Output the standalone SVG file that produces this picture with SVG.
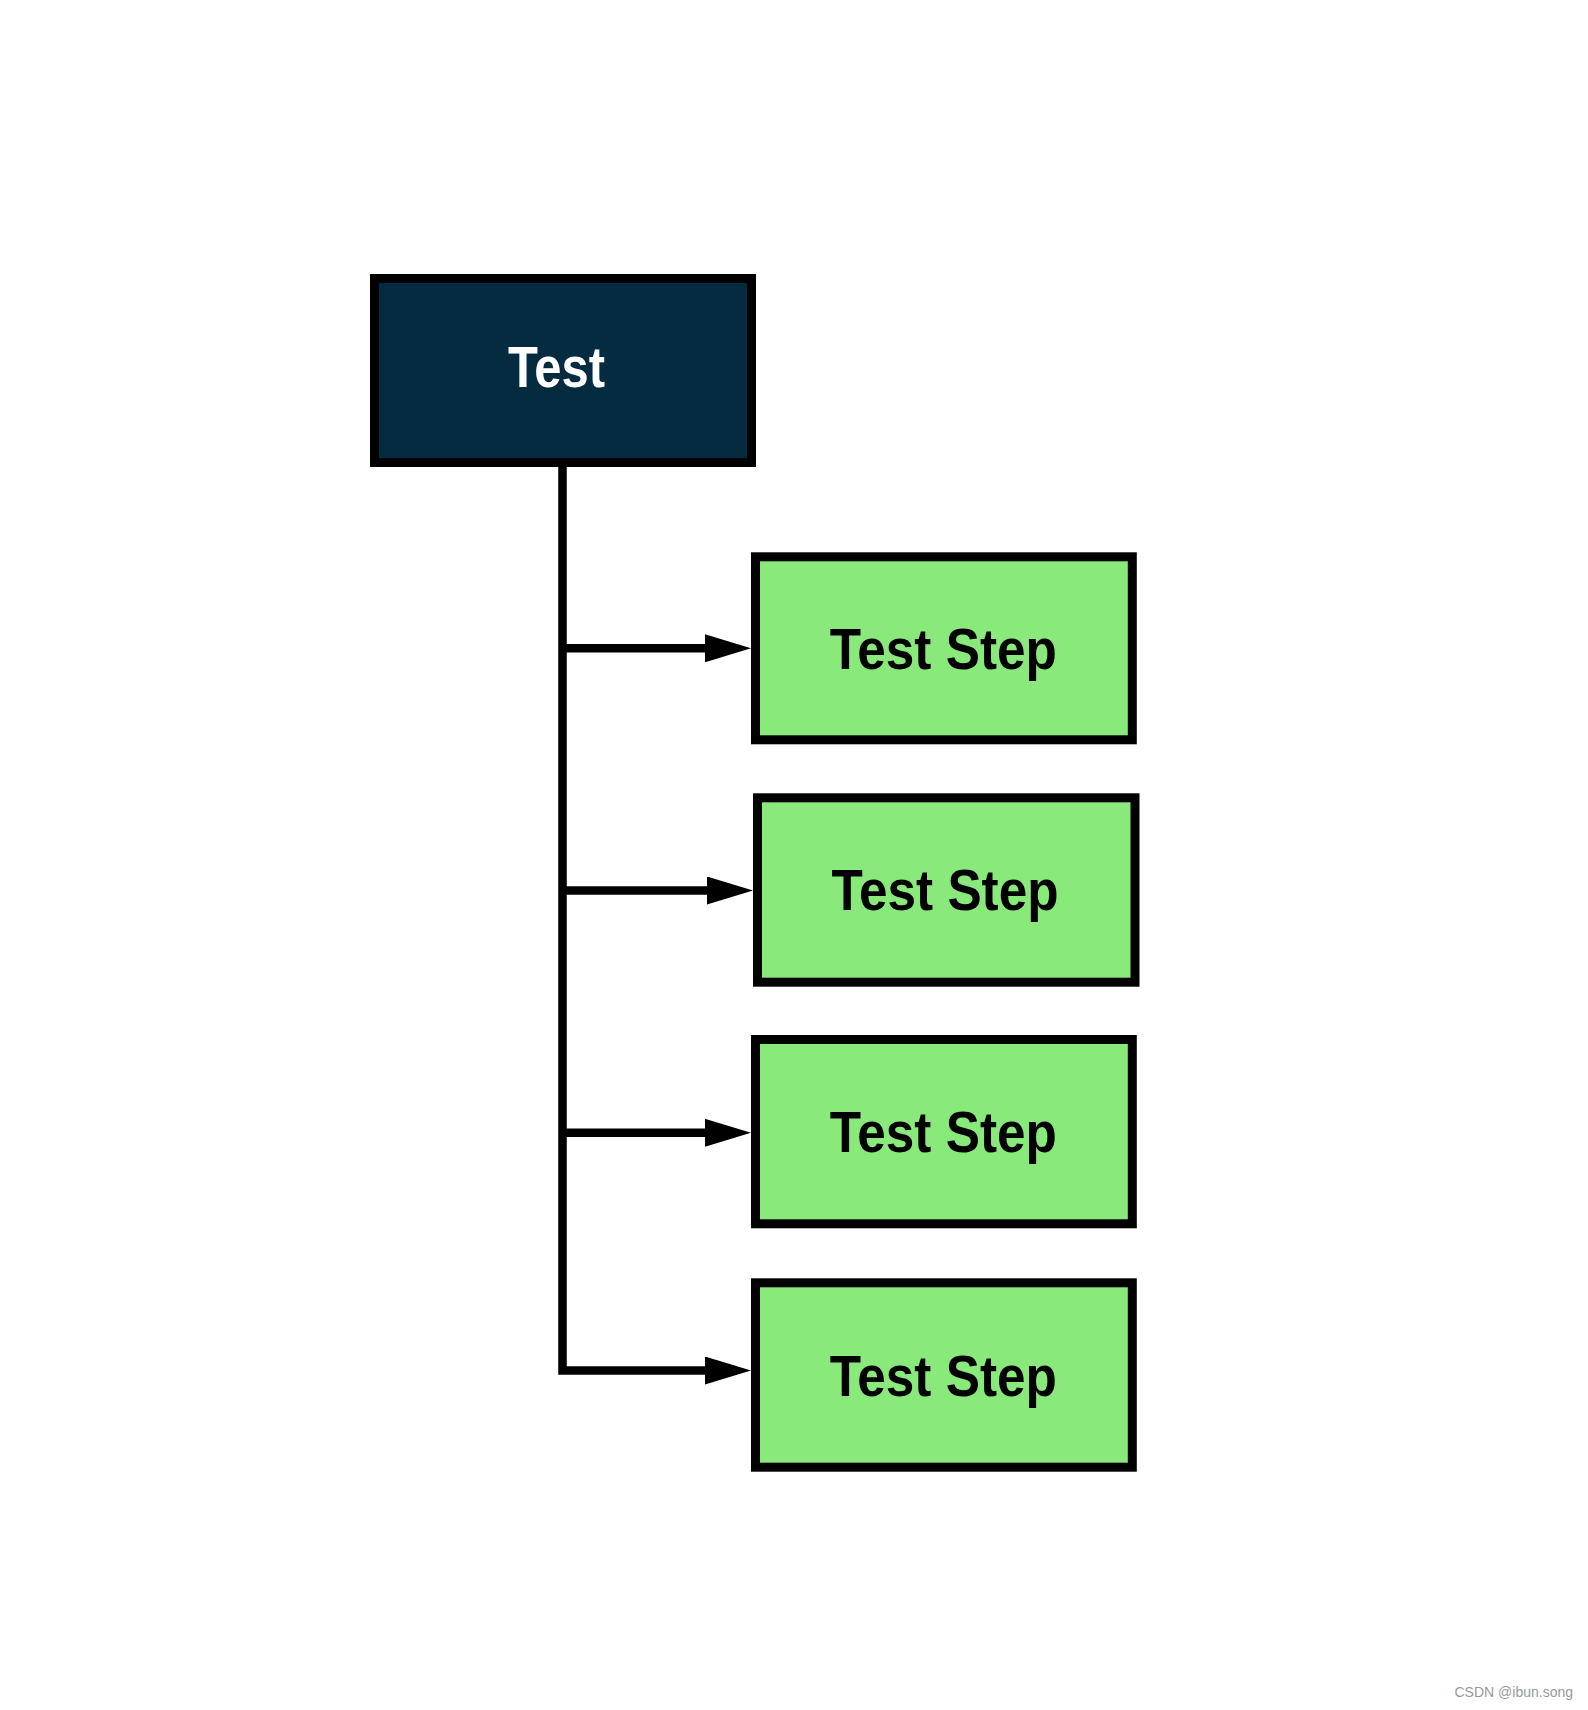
<svg xmlns="http://www.w3.org/2000/svg" width="1588" height="1710" viewBox="0 0 1588 1710">
<style>
.box{stroke:#000;stroke-width:9}
.root{fill:#052B41}
.step{fill:#89EA7B}
.lbl{font-family:"Liberation Sans","DejaVu Sans",sans-serif;font-weight:bold;font-size:57px;text-anchor:middle}
.conn{fill:none;stroke:#000;stroke-width:8.5}
</style>
<defs>
<marker id="ah" markerUnits="userSpaceOnUse" markerWidth="46" markerHeight="28" refX="16" refY="14" orient="auto">
<path d="M0,0 L46,14 L0,28 z" fill="#000"/>
</marker>
</defs>
<rect width="1588" height="1710" fill="#fff"/>
<g id="connectors">
<path class="conn" d="M562.5,466 V1370.5 H721" marker-end="url(#ah)"/>
<path class="conn" d="M562.5,648.3 H721" marker-end="url(#ah)"/>
<path class="conn" d="M562.5,890.5 H723" marker-end="url(#ah)"/>
<path class="conn" d="M562.5,1132.8 H721" marker-end="url(#ah)"/>
</g>
<g id="test">
<rect class="box root" x="374.5" y="278.5" width="377" height="184"/>
<text class="lbl" x="556.5" y="386.7" fill="#fff" textLength="97" lengthAdjust="spacingAndGlyphs">Test</text>
</g>
<g id="step1">
<rect class="box step" x="755.5" y="556.8" width="376.8" height="183"/>
<text class="lbl" x="943.3" y="669.3" fill="#000" textLength="227" lengthAdjust="spacingAndGlyphs">Test Step</text>
</g>
<g id="step2">
<rect class="box step" x="757.5" y="797.8" width="377.5" height="184.4"/>
<text class="lbl" x="945" y="910" fill="#000" textLength="227" lengthAdjust="spacingAndGlyphs">Test Step</text>
</g>
<g id="step3">
<rect class="box step" x="755.5" y="1039.5" width="376.8" height="184.3"/>
<text class="lbl" x="943.3" y="1152.3" fill="#000" textLength="227" lengthAdjust="spacingAndGlyphs">Test Step</text>
</g>
<g id="step4">
<rect class="box step" x="755.5" y="1282.8" width="376.8" height="184.4"/>
<text class="lbl" x="943.3" y="1395.7" fill="#000" textLength="227" lengthAdjust="spacingAndGlyphs">Test Step</text>
</g>
<text x="1573" y="1697" font-family="Liberation Sans, sans-serif" font-size="14" fill="#999" text-anchor="end">CSDN @ibun.song</text>
</svg>
